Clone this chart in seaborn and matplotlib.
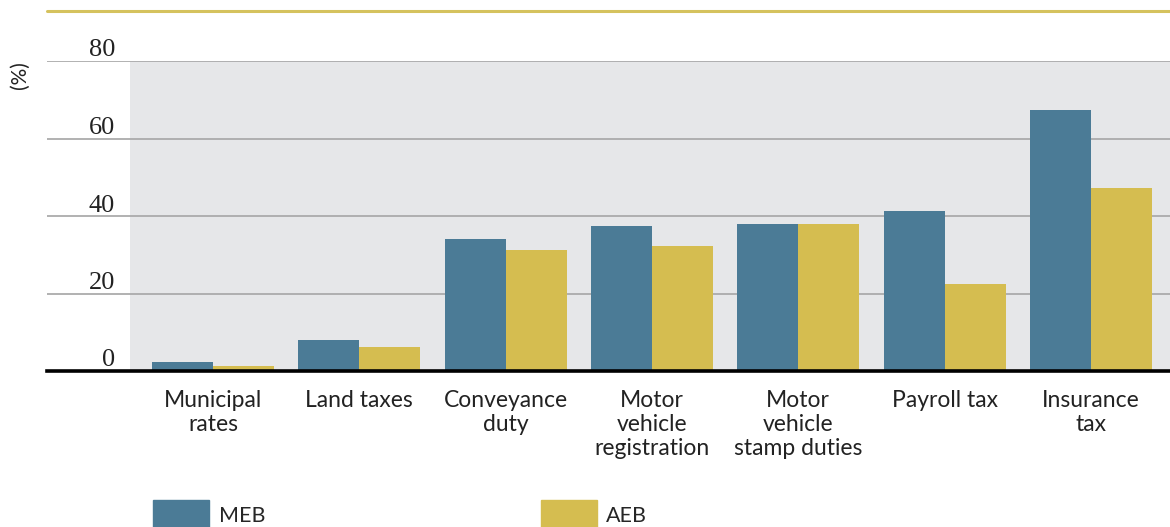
import pandas as pd
import matplotlib.pyplot as plt
import matplotlib.transforms as mtransforms
from matplotlib.patches import Patch
from matplotlib.lines import Line2D
import seaborn as sns

# data
categories = ['Municipal\nrates', 'Land taxes', 'Conveyance\nduty', 'Motor\nvehicle\nregistration',
              'Motor\nvehicle\nstamp duties', 'Payroll tax', 'Insurance\ntax']
meb = [2.3, 8.0, 34.1, 37.4, 37.9, 41.3, 67.4]
aeb = [1.3, 6.2, 31.2, 32.3, 37.9, 22.5, 47.2]
series = ['MEB', 'AEB']
yticks = [0, 20, 40, 60, 80]

colors = {'MEB': '#4b7b96', 'AEB': '#d5bd50'}

df = pd.DataFrame({
    'category': categories * 2,
    'value': meb + aeb,
    'series': ['MEB'] * len(meb) + ['AEB'] * len(aeb),
})

sns.set_theme(style='white')
plt.rcParams['font.family'] = ['Lato', 'DejaVu Sans']

fig = plt.figure(figsize=(11.7, 5.27), dpi=100)
ax = fig.add_axes([47 / 1170, 1 - 371 / 527, 1 - 47 / 1170, 310 / 527])

ax.axvspan(-0.567, 6.6, color='#e6e7e9', zorder=0, lw=0)
sns.barplot(data=df, x='category', y='value', hue='series', hue_order=series,
            palette=colors, saturation=1, width=0.834, gap=0, ax=ax, legend=False,
            linewidth=0, zorder=2)

ax.set_xlim(-1.135, 6.541)
ax.set_ylim(0, 80)
ax.set_yticks(yticks)
ax.set_yticklabels([str(v) for v in yticks], fontsize=19, family='Liberation Serif', color='#222222')
ax.yaxis.grid(True, color='#ababab', lw=1.3, zorder=1)
ax.set_axisbelow(True)
ax.tick_params(axis='y', length=0, pad=0)
ax.tick_params(axis='x', length=0, pad=14, labelsize=16.5, labelcolor='#222222')
offset = mtransforms.ScaledTranslation(0.68, 0.13, fig.dpi_scale_trans)
for lab in ax.get_yticklabels():
    lab.set_transform(lab.get_transform() + offset)
for lab in ax.get_xticklabels():
    lab.set_linespacing(1.17)
ax.set_xlabel('')
ax.set_ylabel('')
for s in ['top', 'right', 'left']:
    ax.spines[s].set_visible(False)
ax.spines['bottom'].set_color('black')
ax.spines['bottom'].set_linewidth(2.6)
ax.spines['bottom'].set_zorder(3)

fig.text(20 / 1170, 1 - 75 / 527, '(%)', rotation=90, ha='center', va='center', fontsize=15, color='#222222')

fig.add_artist(Line2D([47 / 1170, 1], [1 - 11 / 527, 1 - 11 / 527], color='#d5c25e', lw=2.2))

handles = [Patch(color=colors[s]) for s in series]
fig.legend(handles, series, ncol=2, loc='upper left', bbox_to_anchor=(153 / 1170, 1 - 500 / 527),
           frameon=False, fontsize=15.5, handlelength=2.6, handleheight=1.7, handletextpad=0.45,
           columnspacing=12.8, borderpad=0, borderaxespad=0)

fig.savefig('out.png', dpi=100)
